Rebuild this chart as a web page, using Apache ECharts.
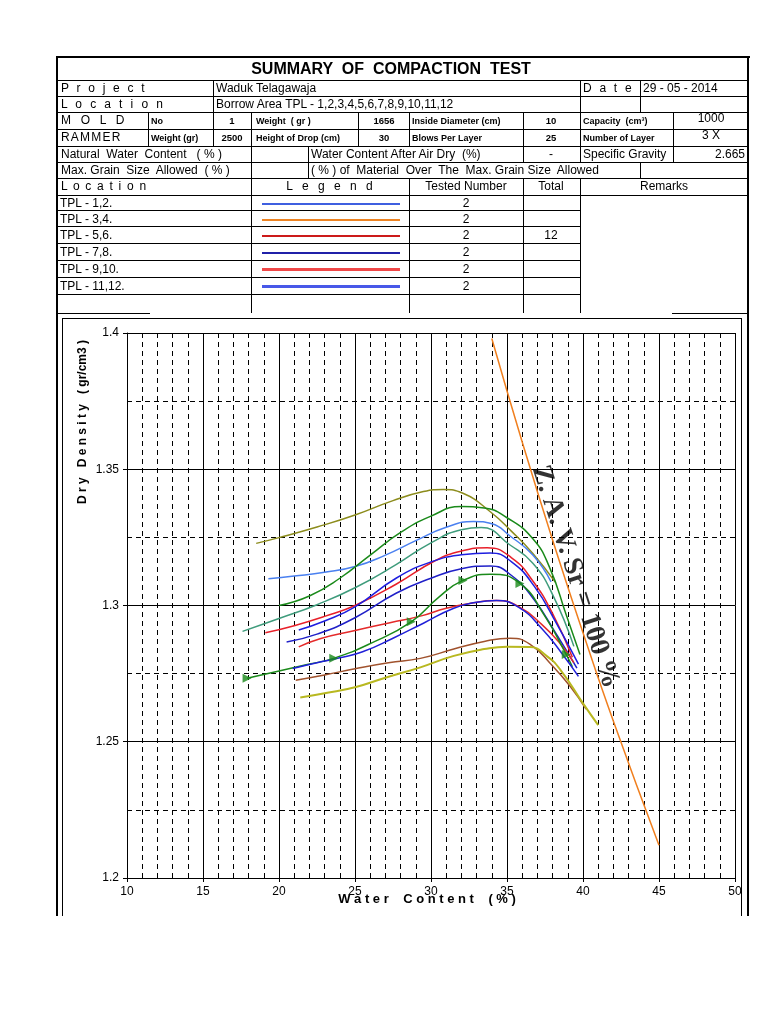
<!DOCTYPE html>
<html><head><meta charset="utf-8">
<script src="https://cdn.jsdelivr.net/npm/echarts@6/dist/echarts.min.js"></script>
<style>
html,body{margin:0;padding:0;background:#fff;}
#page{position:relative;width:768px;height:1024px;overflow:hidden;font-family:Arial,"Liberation Sans",sans-serif;color:#000;}
#chart{position:absolute;left:0;top:0;width:768px;height:1024px;}
.l{position:absolute;background:#000;z-index:2;}
.c{position:absolute;z-index:2;}
.t{position:absolute;white-space:pre;line-height:1;z-index:3;}
</style></head><body><div id="page"><div id="chart"></div></div>
<script>
// ---------------- DATA ----------------
const xTickLabels = [10, 15, 20, 25, 30, 35, 40, 45, 50];
const yTickLabels = [1.2, 1.25, 1.3, 1.35, 1.4];

const curveOlive = [[18.5,1.3228],[20,1.3249],[22.5,1.3288],[25,1.3332],[27.5,1.3385],[29.5,1.3418],[30.8,1.3426],[32.1,1.3412],[33.9,1.3344],[35.3,1.3272],[36.7,1.3191],[38.2,1.3084]];
const curveLightBlue = [[19.3,1.3098],[21,1.3108],[23,1.3122],[25,1.3143],[27,1.3185],[29,1.3238],[31,1.3287],[32.8,1.3308],[34,1.3300],[35.2,1.3255],[36.7,1.3185],[37.9,1.3087]];
const curveGreenTop = [[20,1.3000],[22,1.3035],[24,1.3100],[26,1.3185],[28,1.3268],[30,1.3328],[32,1.3363],[33.5,1.3358],[35,1.3322],[36.7,1.3245],[37.8,1.3140],[38.9,1.2965],[39.8,1.2820]];
const curveTeal = [[17.6,1.2905],[20,1.2952],[22.5,1.3003],[25,1.3065],[27.7,1.3150],[30,1.3230],[32,1.3278],[33.3,1.3286],[35.2,1.3222],[36.7,1.3155],[38,1.3040],[39.4,1.2850]];
const curveRedA = [[19.1,1.2900],[21,1.2926],[23,1.2960],[25,1.3000],[27.7,1.3078],[30.3,1.3165],[32,1.3200],[33.7,1.3212],[35.3,1.3175],[36.7,1.3090],[38,1.2970],[39.3,1.2810]];
const curveBlueA = [[21.3,1.2910],[23,1.2943],[25,1.2995],[27.7,1.3100],[30,1.3160],[32,1.3186],[33.9,1.3193],[35.3,1.3160],[36.8,1.3070],[38.3,1.2930],[39.7,1.2785]];
const curveBlueB = [[20.5,1.2866],[22.5,1.2895],[25,1.2955],[27.7,1.3045],[30,1.3100],[32,1.3135],[33.9,1.3145],[35.3,1.3110],[36.8,1.3020],[38.3,1.2890],[39.6,1.2770]];
const curveRedB = [[21.3,1.2848],[22.7,1.2878],[25,1.2908],[27.3,1.2937],[29.3,1.2961],[31,1.2990],[32.6,1.3008],[34.3,1.3018],[35.8,1.2995],[37.3,1.2930],[38.5,1.2860],[39.4,1.2790]];
const curveGreenArrow = [[17.9,1.2733],[20,1.2760],[22,1.2785],[23.6,1.2806],[26,1.2860],[28.7,1.2940],[30.5,1.3030],[32.1,1.3092],[33.9,1.3115],[35.85,1.3081],[37.5,1.2960],[38.9,1.2820],[39.3,1.2775]];
const greenArrowMarks = [[17.9,1.2733],[23.6,1.2806],[28.7,1.2940],[32.1,1.3092],[35.85,1.3081],[38.9,1.2820]];
const curveBlueC = [[20.9,1.2769],[22.5,1.2790],[24,1.2808],[25.5,1.2830],[27.5,1.2880],[29.5,1.2935],[31.5,1.2990],[33,1.3012],[34.3,1.3018],[35.8,1.2992],[37.3,1.2915],[38.6,1.2825],[39.7,1.2740]];
const curveBrown = [[21.1,1.2726],[23,1.2745],[25,1.2768],[27.2,1.2790],[29.3,1.2806],[31.5,1.2840],[33.5,1.2868],[35.2,1.2880],[36.5,1.2858],[38,1.2778],[39.2,1.2700],[40.2,1.2620]];
const curveYellow = [[21.4,1.2662],[23,1.2678],[25,1.2700],[27,1.2735],[29.3,1.2773],[31.5,1.2815],[33.5,1.2840],[35,1.2849],[36.5,1.2848],[37.6,1.2815],[38.5,1.2765],[40,1.2641],[41,1.2561]];
const zavLine = [[34,1.398],[36,1.360],[38,1.324],[40,1.290],[42,1.2575],[45,1.212]];
const zavLabelAnchor = [39.5, 1.3105];
const zavLabelText = 'Z. A. V. Sr = 100 %';

const legendRows = ['TPL - 1,2.', 'TPL - 3,4.', 'TPL - 5,6.', 'TPL - 7,8.', 'TPL - 9,10.', 'TPL - 11,12.'];
const legendColors = ['#3f5fe0', '#ee8424', '#cc1a1a', '#2020a8', '#f04848', '#4858e8'];
const legendWidths = [2, 2, 2, 2, 3, 3];
const testedNumbers = ['2', '2', '2', '2', '2', '2'];
const totalTested = '12';

// ---------------- TABLE ----------------
const page = document.getElementById('page');
function H(y, x1, x2, w) { const d = document.createElement('div'); d.className = 'l'; d.style.cssText = `left:${x1}px;top:${Math.round(y - (w||1)/2)}px;width:${x2 - x1}px;height:${w||1}px;`; page.appendChild(d); }
function V(x, y1, y2, w) { const d = document.createElement('div'); d.className = 'l'; d.style.cssText = `left:${Math.round(x - (w||1)/2)}px;top:${y1}px;width:${w||1}px;height:${y2 - y1}px;`; page.appendChild(d); }
function C(y, x1, x2, color, w) { const d = document.createElement('div'); d.className = 'c'; d.style.left = x1 + 'px'; d.style.top = Math.round(y - w/2) + 'px'; d.style.width = (x2 - x1) + 'px'; d.style.height = w + 'px'; d.style.backgroundColor = color; page.appendChild(d); }
function T(x, y, s, o) {
  o = o || {};
  const d = document.createElement('div'); d.className = 't'; d.textContent = s;
  const size = o.size || 12;
  let tx = '0';
  if (o.align === 'c') tx = '-50%'; else if (o.align === 'r') tx = '-100%';
  d.style.cssText = `left:${x}px;top:${y}px;font-size:${size}px;font-weight:${o.bold ? 'bold' : 'normal'};letter-spacing:${o.ls || 0}px;transform:translate(${tx},-50%);` + (o.family ? `font-family:${o.family};` : '');
  page.appendChild(d);
}

// outer frame
H(57, 56, 750, 2); V(57, 57, 916, 2); V(748, 57, 916, 2);
[80, 96, 112, 129, 146, 162, 178, 195].forEach(y => H(y, 57, 748));
[210.5, 226.5, 243, 260, 277, 294].forEach(y => H(y, 57, 580));
H(313, 57, 150); H(313, 672, 748);
// verticals
[213, 580, 640].forEach(x => V(x, 80, 112));
[148, 213, 251, 358, 409, 523, 580, 673].forEach(x => V(x, 112, 146));
[251, 308, 523, 580, 673].forEach(x => V(x, 146, 162));
[251, 308, 640].forEach(x => V(x, 162, 178));
[251, 409, 523, 580].forEach(x => V(x, 178, 313));
// chart box
H(318, 62, 741); V(62, 318, 916); V(741, 318, 916);

// texts
T(391, 69, 'SUMMARY  OF  COMPACTION  TEST', {size: 16, bold: true, align: 'c'});
T(61, 88, 'P r o j e c t', {ls: 2.2});
T(216, 88, 'Waduk Telagawaja');
T(583, 88, 'D a t e', {ls: 2.2});
T(643, 88, '29 - 05 - 2014');
T(61, 104, 'L o c a t i o n', {ls: 2.4});
T(216, 104, 'Borrow Area TPL - 1,2,3,4,5,6,7,8,9,10,11,12');
T(61, 120, 'M O L D', {ls: 3.2});
T(151, 121, 'No', {size: 9, bold: true});
T(232, 121, '1', {size: 9.5, bold: true, align: 'c'});
T(256, 121, 'Weight  ( gr )', {size: 9, bold: true});
T(384, 121, '1656', {size: 9.5, bold: true, align: 'c'});
T(412, 121, 'Inside Diameter (cm)', {size: 9, bold: true});
T(551, 121, '10', {size: 9.5, bold: true, align: 'c'});
T(583, 121, 'Capacity  (cm³)', {size: 9, bold: true});
T(711, 118, '1000', {align: 'c'});
T(61, 137, 'RAMMER', {ls: 1.2});
T(151, 138, 'Weight (gr)', {size: 9, bold: true});
T(232, 138, '2500', {size: 9.5, bold: true, align: 'c'});
T(256, 138, 'Height of Drop (cm)', {size: 9, bold: true});
T(384, 138, '30', {size: 9.5, bold: true, align: 'c'});
T(412, 138, 'Blows Per Layer', {size: 9, bold: true});
T(551, 138, '25', {size: 9.5, bold: true, align: 'c'});
T(583, 138, 'Number of Layer', {size: 9, bold: true});
T(711, 135, '3 X', {align: 'c'});
T(61, 154, 'Natural  Water  Content   ( % )');
T(311, 154, 'Water Content After Air Dry  (%)');
T(551, 154, '-', {align: 'c'});
T(583, 154, 'Specific Gravity');
T(745, 154, '2.665', {align: 'r'});
T(61, 170, 'Max. Grain  Size  Allowed  ( % )');
T(311, 170, '( % ) of  Material  Over  The  Max. Grain Size  Allowed');
T(61, 186, 'L o c a t i o n', {ls: 1.2});
T(331, 186, 'L e g e n d', {ls: 3, align: 'c'});
T(466, 186, 'Tested Number', {align: 'c'});
T(551, 186, 'Total', {align: 'c'});
T(664, 186, 'Remarks', {align: 'c'});
const rowY = [202.5, 218.5, 234.5, 251.5, 268.5, 285.5];
legendRows.forEach((s, i) => {
  T(60, rowY[i], s);
  C(rowY[i] + 1, 262, 400, legendColors[i], legendWidths[i]);
  T(466, rowY[i], testedNumbers[i], {align: 'c'});
});
T(551, rowY[2], totalTested, {align: 'c'});

// ---------------- CHART ----------------
const chart = echarts.init(document.getElementById('chart'), null, {renderer: 'canvas'});
function curve(name, data, color, width) {
  return {name, type: 'line', data, smooth: 0.5, showSymbol: false, symbol: 'none', silent: true,
    lineStyle: {color, width: width || 1.5}, itemStyle: {color}, z: 3};
}
const axisCommon = {
  type: 'value',
  axisLine: {show: true, onZero: false, lineStyle: {color: '#000', width: 1}},
  axisTick: {show: true, inside: false, length: 4, lineStyle: {color: '#000'}},
  axisLabel: {color: '#000', fontSize: 12, fontFamily: 'Arial, "Liberation Sans"'},
  splitLine: {show: true, lineStyle: {color: '#000', width: 1}},
  minorSplitLine: {show: true, lineStyle: {color: '#000', width: 1, type: [5, 4]}}
};
const option = {
  animation: false,
  backgroundColor: 'transparent',
  grid: {left: 127, top: 333, width: 608, height: 545, containLabel: false},
  xAxis: Object.assign({}, axisCommon, {
    min: xTickLabels[0], max: xTickLabels[xTickLabels.length - 1], interval: xTickLabels[1] - xTickLabels[0],
    minorTick: {show: false, splitNumber: 5},
    axisLabel: Object.assign({}, axisCommon.axisLabel, {margin: 8})
  }),
  yAxis: Object.assign({}, axisCommon, {
    min: yTickLabels[0], max: yTickLabels[yTickLabels.length - 1], interval: 0.05,
    minorTick: {show: false, splitNumber: 2},
    axisLabel: Object.assign({}, axisCommon.axisLabel, {margin: 8})
  }),
  graphic: [{
    type: 'text', x: 83, y: 422, rotation: Math.PI / 2, silent: true,
    style: {text: 'D r y   D e n s i t y   ( gr/cm3 )', font: 'bold 12px Arial, "Liberation Sans"', fill: '#000',
      align: 'center', verticalAlign: 'middle', textAlign: 'center', textVerticalAlign: 'middle'}
  }, {
    type: 'text', x: 427, y: 899, silent: true, z: 10,
    style: {text: 'W a t e r    C o n t e n t    ( % )', font: 'bold 13px Arial, "Liberation Sans"', fill: '#000',
      align: 'center', verticalAlign: 'middle', textAlign: 'center', textVerticalAlign: 'middle'}
  }],
  series: [
    curve('olive', curveOlive, '#8c8c1c'),
    curve('lightBlue', curveLightBlue, '#4a80f0'),
    curve('greenTop', curveGreenTop, '#1a8a1a'),
    curve('teal', curveTeal, '#3f9c7c'),
    curve('redA', curveRedA, '#e8202a'),
    curve('blueA', curveBlueA, '#1e1ee0'),
    curve('blueB', curveBlueB, '#2020c8'),
    curve('redB', curveRedB, '#e42a2a'),
    curve('greenArrow', curveGreenArrow, '#1a8a1a'),
    curve('blueC', curveBlueC, '#2020d8'),
    curve('brown', curveBrown, '#a0522d'),
    curve('yellow', curveYellow, '#b8b820', 2),
    {name: 'marks', type: 'scatter', data: greenArrowMarks, symbol: 'triangle', symbolSize: 9, symbolRotate: -90,
      itemStyle: {color: '#1a8a1a'}, silent: true, z: 4},
    {name: 'zav', type: 'line', data: zavLine, smooth: true, showSymbol: false, symbol: 'none', silent: true,
      lineStyle: {color: '#f07f1e', width: 1.5}, z: 3},
    {name: 'zavLabel', type: 'scatter', data: [zavLabelAnchor], symbolSize: 0, silent: true, z: 5,
      label: {show: true, position: 'inside', formatter: zavLabelText, rotate: -72,
        fontFamily: '"Liberation Serif", "Times New Roman", serif', fontWeight: 'bold', fontSize: 28, color: '#000'}}
  ]
};
chart.setOption(option);
</script></body></html>
